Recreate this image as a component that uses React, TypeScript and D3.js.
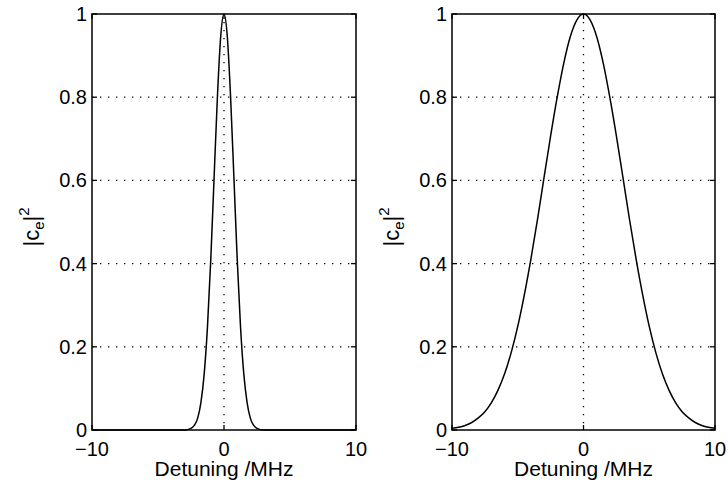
import React from "react";
import * as d3 from "d3";

const xTicks = [-10, 0, 10];
const yTicks = [0, 0.2, 0.4, 0.6, 0.8, 1];
const yTickLabels = ["0", "0.2", "0.4", "0.6", "0.8", "1"];
const gridY = [0.2, 0.4, 0.6, 0.8];
const gridX = [0];

// left panel: narrow resonance
const leftX = [-10, -3, -2.5, -2.25, -2, -1.75, -1.5, -1.25, -1, -0.75, -0.5, -0.25, 0, 0.25, 0.5, 0.75, 1, 1.25, 1.5, 1.75, 2, 2.25, 2.5, 3, 10];
const leftY = [0, 0, 0.004, 0.011, 0.028, 0.066, 0.135, 0.249, 0.411, 0.607, 0.8, 0.946, 1, 0.946, 0.8, 0.607, 0.411, 0.249, 0.135, 0.066, 0.028, 0.011, 0.004, 0, 0];

// right panel: broad resonance
const rightX = [-10, -9.5, -9, -8.5, -8, -7.5, -7, -6.5, -6, -5.5, -5, -4.5, -4, -3.5, -3, -2.5, -2, -1.5, -1, -0.5, 0, 0.5, 1, 1.5, 2, 2.5, 3, 3.5, 4, 4.5, 5, 5.5, 6, 6.5, 7, 7.5, 8, 8.5, 9, 9.5, 10];
const rightY = [0.004, 0.0066, 0.011, 0.018, 0.029, 0.044, 0.066, 0.096, 0.135, 0.186, 0.249, 0.325, 0.411, 0.506, 0.607, 0.707, 0.8, 0.882, 0.946, 0.986, 1, 0.986, 0.946, 0.882, 0.8, 0.707, 0.607, 0.506, 0.411, 0.325, 0.249, 0.186, 0.135, 0.096, 0.066, 0.044, 0.029, 0.018, 0.011, 0.0066, 0.004];

const xLabel = "Detuning /MHz";
const FONT = "'Liberation Sans', Arial, Helvetica, sans-serif";

const W = 728;
const H = 487;
const top = 14;
const bottom = 430;

function Panel({ x0, x1, xs, ys }: { x0: number; x1: number; xs: number[]; ys: number[] }) {
  const x = d3.scaleLinear().domain([-10, 10]).range([x0, x1]);
  const y = d3.scaleLinear().domain([0, 1]).range([bottom, top]);
  const pts = xs.map((v, i) => [v, ys[i]] as [number, number]);
  const line = d3
    .line<[number, number]>()
    .x((d) => x(d[0]))
    .y((d) => y(d[1]))
    .curve(d3.curveMonotoneX);
  const tl = 5;
  const labelX = x0 - 53;
  const labelY = (top + bottom) / 2 + 5;
  return (
    <g>
      {gridY.map((g) => (
        <line key={"gy" + g} x1={x0} x2={x1} y1={y(g)} y2={y(g)} stroke="#000" strokeWidth={1.3} strokeDasharray="1.3,6.7" />
      ))}
      {gridX.map((g) => (
        <line key={"gx" + g} x1={x(g)} x2={x(g)} y1={top} y2={bottom} stroke="#000" strokeWidth={1.3} strokeDasharray="1.3,6.7" />
      ))}
      <path d={line(pts) || ""} fill="none" stroke="#000" strokeWidth={1.5} />
      <rect x={x0} y={top} width={x1 - x0} height={bottom - top} fill="none" stroke="#000" strokeWidth={1.5} />
      {yTicks.map((t) => (
        <g key={"yt" + t}>
          <line x1={x0} x2={x0 + tl} y1={y(t)} y2={y(t)} stroke="#000" strokeWidth={1.3} />
          <line x1={x1} x2={x1 - tl} y1={y(t)} y2={y(t)} stroke="#000" strokeWidth={1.3} />
        </g>
      ))}
      {xTicks.map((t) => (
        <g key={"xt" + t}>
          <line x1={x(t)} x2={x(t)} y1={bottom} y2={bottom - tl} stroke="#000" strokeWidth={1.3} />
          <line x1={x(t)} x2={x(t)} y1={top} y2={top + tl} stroke="#000" strokeWidth={1.3} />
        </g>
      ))}
      {yTicks.map((t, i) => (
        <text key={"yl" + t} x={x0 - 5} y={y(t) + 7} textAnchor="end" fontSize={20} fontFamily={FONT} fill="#000">
          {yTickLabels[i]}
        </text>
      ))}
      {xTicks.map((t) => (
        <text key={"xl" + t} x={x(t)} y={456} textAnchor="middle" fontSize={20} fontFamily={FONT} fill="#000">
          {t < 0 ? "\u2212" + Math.abs(t) : String(t)}
        </text>
      ))}
      <text x={(x0 + x1) / 2} y={476} textAnchor="middle" fontSize={21} fontFamily={FONT} fill="#000">
        {xLabel}
      </text>
      <text
        transform={`translate(${labelX},${labelY}) rotate(-90)`}
        textAnchor="middle"
        fontSize={22}
        fontFamily={FONT}
        fill="#000"
      >
        <tspan>|c</tspan>
        <tspan fontSize={15} dy={5}>e</tspan>
        <tspan dy={-5}>|</tspan>
        <tspan fontSize={15} dy={-10}>2</tspan>
      </text>
    </g>
  );
}

export default function App() {
  return (
    <svg
      width={W}
      height={H}
      viewBox={`0 0 ${W} ${H}`}
      style={{ display: "block", background: "#fff", position: "fixed", left: 0, top: 0 }}
    >
      <rect x={0} y={0} width={W} height={H} fill="#fff" />
      <Panel x0={92} x1={356} xs={leftX} ys={leftY} />
      <Panel x0={452} x1={715} xs={rightX} ys={rightY} />
    </svg>
  );
}
